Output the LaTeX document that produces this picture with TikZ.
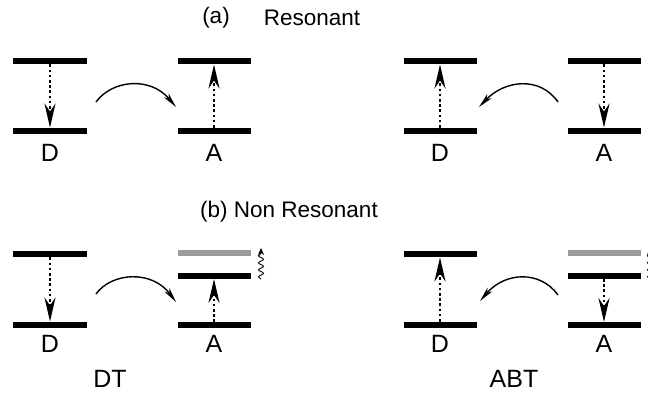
\documentclass[tikz,border=0pt]{standalone}
\usepackage{fontspec}
\setmainfont{Liberation Sans}
\usetikzlibrary{arrows.meta,decorations.pathmorphing}
\begin{document}
\begin{tikzpicture}[x=1bp,y=-1bp,
  bar/.style={fill=black,draw=none,inner sep=0pt,minimum width=73bp,minimum height=6.5bp},
  thinbar/.style={bar,minimum height=5.5bp},
  graybar/.style={bar,fill=black!30!gray!60,minimum height=5.5bp},
  lbl/.style={font=\fontsize{25bp}{27bp}\selectfont,inner sep=0pt},
  ttl/.style={font=\fontsize{22.5bp}{25bp}\selectfont,inner sep=0pt},
  trans/.style={line width=2.8bp,dash pattern=on 2.6bp off 2.6bp,-{Stealth[length=24bp,width=11bp,inset=8bp]}},
  et/.style={line width=1.4bp,-{Stealth[length=15bp,width=6bp,inset=4bp]}},
  wav/.style={line width=0.9bp,decorate,decoration={snake,amplitude=2.5bp,segment length=7bp,post length=5bp},-{Stealth[length=7bp,width=6bp]}}]
\useasboundingbox (0,0) rectangle (648,396);
% titles
\node[ttl] (ta) at (216,18) {(a)};
\node[ttl] (tr) at (312,18) {Resonant};
\node[ttl] (tb) at (289,212) {(b) Non Resonant};
% ---- (a) left: DT resonant
\node[bar] (d1t) at (50,61) {};
\node[bar] (d1b) at (50,131) {};
\node[bar] (a1t) at (214,61) {};
\node[bar] (a1b) at (214,131) {};
\node[lbl] (d1l) at (50,153) {D};
\node[lbl] (a1l) at (214,153) {A};
\draw[trans] (d1t.south) -- (d1b.north);
\draw[trans] (a1b.north) -- (a1t.south);
\coordinate (c1s) at (96,102);
\coordinate (c1e) at (176,107);
\draw[et] (c1s) .. controls (112,80) and (150,76) .. (c1e);
% ---- (a) right: ABT resonant
\node[bar] (d2t) at (440,61) {};
\node[bar] (d2b) at (440,131) {};
\node[bar] (a2t) at (604,61) {};
\node[bar] (a2b) at (604,131) {};
\node[lbl] (d2l) at (440,153) {D};
\node[lbl] (a2l) at (604,153) {A};
\draw[trans] (d2b.north) -- (d2t.south);
\draw[trans] (a2t.south) -- (a2b.north);
\coordinate (c2s) at (558,102);
\coordinate (c2e) at (479,107);
\draw[et] (c2s) .. controls (540,76) and (505,80) .. (c2e);
% ---- (b) left: DT non resonant
\node[bar] (d3t) at (50,254) {};
\node[bar] (d3b) at (50,325) {};
\node[graybar] (a3g) at (214,253) {};
\node[thinbar] (a3t) at (214,276) {};
\node[thinbar] (a3b) at (214,325) {};
\node[lbl] (d3l) at (50,344) {D};
\node[lbl] (a3l) at (214,344) {A};
\node[lbl] (dt) at (110,379) {DT};
\draw[trans] (d3t.south) -- (d3b.north);
\draw[trans] (a3b.north) -- (a3t.south);
\coordinate (c3s) at (96,294);
\coordinate (c3e) at (176,302);
\draw[et] (c3s) .. controls (112,272) and (152,270) .. (c3e);
\coordinate (w3s) at (261,279);
\coordinate (w3e) at (261,248);
\draw[wav] (w3s) -- (w3e);
% ---- (b) right: ABT non resonant
\node[bar] (d4t) at (440,254) {};
\node[bar] (d4b) at (440,325) {};
\node[graybar] (a4g) at (604,253) {};
\node[thinbar] (a4t) at (604,276) {};
\node[thinbar] (a4b) at (604,325) {};
\node[lbl] (d4l) at (440,344) {D};
\node[lbl] (a4l) at (604,344) {A};
\node[lbl] (abt) at (514,379) {ABT};
\draw[trans] (d4b.north) -- (d4t.south);
\draw[trans] (a4t.south) -- (a4b.north);
\coordinate (c4s) at (558,295);
\coordinate (c4e) at (480,301);
\draw[et] (c4s) .. controls (540,270) and (505,272) .. (c4e);
\coordinate (w4s) at (650,279);
\coordinate (w4e) at (650,248);
\draw[wav] (w4s) -- (w4e);
\end{tikzpicture}
\end{document}
